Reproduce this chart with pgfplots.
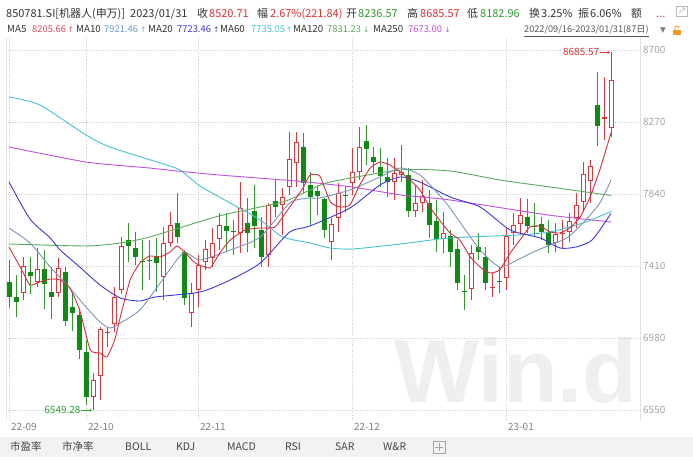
\documentclass[border=0pt]{standalone}
\usepackage{fontspec}
\setmainfont{Noto Sans CJK SC}
\newfontfamily\wmfont{Liberation Sans}
\newfontfamily\symfont{DejaVu Sans}
\usepackage{pgfplots}
\pgfplotsset{compat=1.18}
\usepackage{pgfplotstable}
\usetikzlibrary{arrows.meta}

\definecolor{txt}{HTML}{333333}
\definecolor{upred}{HTML}{E3343A}
\definecolor{dngreen}{HTML}{108A14}
\definecolor{wickgreen}{HTML}{2E9A2E}
\definecolor{hdred}{HTML}{E0312F}
\definecolor{hdgreen}{HTML}{2E9E2E}
\definecolor{cma5}{HTML}{D6303C}
\definecolor{tma5}{HTML}{E64A60}
\definecolor{cma10}{HTML}{7A96B8}
\definecolor{tma10}{HTML}{6B9BD2}
\definecolor{cma20}{HTML}{3A3AD8}
\definecolor{cma60}{HTML}{45C2D0}
\definecolor{cma120}{HTML}{5BAA5B}
\definecolor{cma250}{HTML}{C04FE0}
\definecolor{gridc}{HTML}{CFCFCF}
\definecolor{wm}{HTML}{EFEFEF}
\definecolor{tabbg}{HTML}{F2F2F2}
\definecolor{framec}{HTML}{E1E1E1}
\definecolor{xlab}{HTML}{808080}
\definecolor{ylab}{HTML}{A5A5A5}
\definecolor{datec}{HTML}{555555}
\definecolor{tabtxt}{HTML}{444444}

\pgfplotsset{candle/.style={only marks, mark=*, mark size=0pt,
  mark options={draw=none, fill=none}}}

\pgfplotstableread{
i o h l c
2 7249 7464 7207 7410
4 7314 7518 7285 7392
7 7249 7458 7225 7398
12 6628 6771 6549.28 6729
13 6753 7046 6610 7034
14 7010 7046 6926 7016
15 7064 7285 7016 7225
16 7267 7583 7243 7530
22 7344 7643 7207 7547
23 7547 7733 7524 7655
26 7129 7309 7046 7249
27 7267 7476 7165 7416
28 7434 7565 7386 7512
29 7458 7637 7404 7547
30 7571 7727 7506 7655
33 7607 7912 7488 7756
37 7476 7786 7404 7774
39 7774 7876 7595 7822
40 7882 8210 7834 8049
41 8025 8210 7882 8151
46 7553 7697 7446 7661
47 7697 7906 7613 7846
49 7906 8115 7834 7971
50 7971 8240 7924 8121
55 7912 8055 7804 7965
56 7954 8133 7912 7971
58 7739 7894 7703 7786
59 7786 7924 7733 7828
62 7571 7733 7488 7607
66 7273 7535 7207 7488
69 7279 7368 7225 7285
71 7338 7643 7267 7589
72 7607 7727 7535 7655
73 7661 7816 7595 7715
78 7547 7667 7494 7601
79 7601 7685 7518 7607
80 7613 7727 7553 7679
81 7697 7846 7637 7774
82 7792 8031 7733 7959
83 7918 8043 7786 8007
85 8289 8539 8163 8298.87
86 8236.57 8685.57 8182.96 8520.71
}\redtab

\pgfplotstableread{
i o h l c
0 7314 7446 7159 7225
1 7225 7356 7105 7195
3 7374 7464 7243 7350
5 7392 7506 7153 7303
6 7255 7404 7094 7225
8 7374 7404 7052 7082
9 7165 7249 7022 7129
10 7117 7159 6855 6908
11 6896 6968 6580 6628
17 7565 7667 7434 7530
18 7518 7613 7416 7464
19 7440 7565 7267 7434
20 7446 7565 7326 7440
21 7470 7577 7255 7428
24 7667 7846 7547 7583
25 7494 7506 7177 7219
31 7649 7727 7494 7619
32 7619 7685 7476 7613
34 7667 7816 7494 7607
35 7739 7894 7518 7649
36 7625 7703 7404 7464
38 7798 7924 7703 7762
42 8121 8204 7846 7906
43 7894 7971 7655 7822
44 7858 7894 7715 7828
45 7810 7816 7577 7625
48 7834 7882 7733 7828
51 8157 8252 8013 8109
52 8061 8121 7965 8031
53 8001 8115 7882 7948
54 7942 8055 7822 7912
57 7954 7995 7703 7739
60 7786 7864 7577 7655
61 7679 7804 7494 7571
63 7589 7625 7404 7494
64 7512 7565 7267 7309
65 7261 7356 7147 7255
67 7524 7607 7446 7494
68 7464 7524 7267 7309
70 7320 7404 7249 7314
74 7703 7810 7607 7649
75 7649 7786 7583 7643
76 7661 7703 7565 7613
77 7613 7685 7488 7535
84 8372 8569 8127 8246
}\greentab

\begin{document}
\begin{tikzpicture}[x=1bp,y=1bp]
\fill[white] (0,0) rectangle (693,461);
% watermark
\node[anchor=base west, inner sep=0pt, text=wm, font=\wmfont\bfseries\fontsize{90}{90}\selectfont] at (394,58) {Win.d};

\begin{axis}[
  at={(6bp,41bp)}, anchor=south west, scale only axis,
  width=634bp, height=382bp,
  xmin=-0.42857, xmax=90.142857,
  ymin=6490.28, ymax=8771.67,
  axis line style={draw=none},
  tick style={draw=none}, major tick length=0pt,
  xtick={0,11,27,49,71},
  xticklabels={22-09,22-10,22-11,22-12,23-01},
  ytick={6550,6980,7410,7840,8270,8700},
  yticklabels={6550,6980,7410,7840,8270,8700},
  yticklabel pos=right,
  grid=major,
  major grid style={gridc, line width=0.8bp, dash pattern=on 1bp off 1.2bp},
  xticklabel style={anchor=north west, inner sep=0pt, xshift=2bp, yshift=-3bp,
     text=xlab, font=\fontsize{10}{12}\selectfont},
  yticklabel style={anchor=west, inner sep=0pt, xshift=3bp,
     text=ylab, font=\fontsize{10}{12}\selectfont},
]
% wicks
\addplot[candle, error bars/.cd, y dir=plus, y explicit, error mark=none,
  error bar style={line width=1bp, color=upred}]
  table[x=i, y=l, y error plus expr={\thisrow{h}-\thisrow{l}}] {\redtab};
\addplot[candle, error bars/.cd, y dir=plus, y explicit, error mark=none,
  error bar style={line width=1bp, color=wickgreen}]
  table[x=i, y=l, y error plus expr={\thisrow{h}-\thisrow{l}}] {\greentab};
% green bodies
\addplot[candle, error bars/.cd, y dir=plus, y explicit, error mark=none,
  error bar style={line width=5bp, line cap=butt, color=dngreen}]
  table[x=i, y=c, y error plus expr={\thisrow{o}-\thisrow{c}}] {\greentab};
% red bodies (hollow)
\addplot[candle, error bars/.cd, y dir=plus, y explicit, error mark=none,
  error bar style={line width=5bp, line cap=butt, color=upred}]
  table[x=i, y=o, y error plus expr={\thisrow{c}-\thisrow{o}}] {\redtab};
\addplot[candle, error bars/.cd, y dir=plus, y explicit, error mark=none,
  error bar style={line width=3bp, line cap=butt, color=white}]
  table[x=i, y expr={\thisrow{o}+6}, y error plus expr={max(\thisrow{c}-\thisrow{o}-12,0)}] {\redtab};

% MA250
\addplot[cma250, line width=0.9bp, mark=none, smooth, tension=0.4] coordinates {
(0,8120.7) (11,8031.1) (20,7995.3) (24,7977.4) (30,7953.5) (41,7917.6) (49,7881.8) (56,7834) (63,7804.2) (77,7714.6) (86,7673)};
% MA120
\addplot[cma120, line width=0.9bp, mark=none, smooth, tension=0.4] coordinates {
(0,7541.4) (11,7529.5) (15.9,7547.4) (20.1,7583.2) (30,7708.6) (39.1,7792.2) (43,7863.9) (45.9,7911.7) (55.9,7983.3) (63,7977.4) (70.1,7923.6) (77.3,7881.8) (86,7831.23)};
% MA60
\addplot[cma60, line width=0.9bp, mark=none, smooth, tension=0.4] coordinates {
(0,8419.3) (4.4,8371.5) (11,8192.4) (14.4,8120.7) (21.6,8025.1) (24.4,7983.3) (27.3,7887.8) (31.6,7786.3) (35.9,7684.7) (39.1,7583.2) (43,7547.4) (45.9,7517.5) (49.1,7511.5) (55.9,7541.4) (63,7577.2) (72.6,7595.1) (77.3,7613.1) (82,7666.8) (86,7735.05)};
% MA20
\addplot[cma20, line width=0.9bp, mark=none, smooth, tension=0.4] coordinates {
(0,7911.7) (3,7690.7) (5.9,7577.2) (7.3,7505.6) (10.1,7404) (13,7296.5) (15.9,7218.9) (18.7,7201) (20.9,7224.9) (27.3,7254.7) (31.6,7326.4) (35.9,7427.9) (40.1,7613) (43,7648.9) (48.7,7756.4) (53,7893.8) (55.9,7941.5) (58.7,7911.7) (63,7822.1) (67.3,7762.4) (71.6,7625) (75.9,7577.2) (78.7,7517.5) (81,7523.5) (83.3,7565.3) (86,7723.46)};
% MA10
\addplot[cma10, line width=0.9bp, mark=none, smooth, tension=0.4] coordinates {
(0,7637) (3,7547.4) (5.9,7404) (8.7,7278.6) (11,7165.1) (13,7075.6) (14.4,7039.7) (15.9,7069.6) (18.7,7147.2) (21.6,7308.5) (24.9,7487.6) (27.3,7445.8) (31.6,7505.6) (35.9,7583.2) (40.1,7786.3) (43,7816.1) (44.4,7816.1) (48.7,7863.9) (53,7941.5) (55.9,7995.3) (58.7,7953.5) (61.6,7828.1) (63,7756.4) (64.4,7673) (67.3,7505.6) (70.1,7404) (72.6,7445.8) (74.9,7493.6) (77.3,7535.4) (79.7,7577.2) (82,7666.8) (84.4,7786.3) (86,7921.46)};
% MA5
\addplot[cma5, line width=0.9bp, mark=none, smooth, tension=0.3] coordinates {
(0,7523.5) (1.6,7404) (3,7296.5) (4.4,7314.4) (5.9,7332.4) (7.3,7326.4) (8.7,7278.6) (10.1,7147.2) (11.6,6908.3) (13,6890.4) (14,6866.5) (15.1,6968.1) (15.9,7105.4) (17.3,7326.4) (18.7,7427.9) (20.1,7469.7) (21.6,7463.8) (23,7493.6) (24,7529.5) (25.1,7493.6) (26.6,7427.9) (28.7,7398.1) (30.1,7487.6) (31.6,7565.3) (33.7,7625) (35.9,7637) (38,7642.9) (40.1,7762.4) (42,7875.8) (43,7953.5) (44.4,7947.5) (45.9,7792.2) (47.3,7762.4) (48.7,7774.3) (50.1,7893.8) (51.6,7995.3) (53,8031.1) (54.4,8013.2) (55.9,7971.4) (57.3,7923.6) (58.7,7863.9) (60.1,7762.4) (61.6,7678.8) (63,7607.1) (64.4,7565.3) (65.9,7463.8) (67.3,7404) (68.7,7368.2) (70.1,7386.1) (71.6,7487.6) (73,7565.3) (74.4,7642.9) (75.9,7648.9) (77.3,7613.1) (78.7,7607.1) (80.1,7637) (81.6,7702.6) (83,7822.1) (84.4,7983.3) (86,8205.66)};

% annotations
\draw[hdred, line width=0.6bp, -{To[length=2bp,width=3bp]}] (axis cs:84.4,8685.57) -- (axis cs:85.8,8685.57);
\node[anchor=east, inner sep=0.5bp, text=hdred, font=\fontsize{10}{12}\selectfont] at (axis cs:84.4,8685.57) {8685.57};
\draw[hdgreen, line width=0.6bp, -{To[length=2bp,width=3bp]}] (axis cs:10.3,6549.28) -- (axis cs:11.8,6549.28);
\node[anchor=east, inner sep=0.5bp, text=hdgreen, font=\fontsize{10}{12}\selectfont] at (axis cs:10.3,6549.28) {6549.28};
\end{axis}

% plot frame lines
\draw[framec, line width=0.8bp] (6,41) -- (6,423);
\draw[framec, line width=0.8bp] (640,41) -- (640,423);

% header row 1
\begin{scope}[every node/.style={anchor=base west, inner sep=0pt, font=\fontsize{11}{13}\selectfont, text=txt}]
\node at (6,443) {850781.SI[机器人(申万)]};
\node at (130,443) {2023/01/31};
\node at (197,443) {收};
\node[text=hdred] at (209,443) {8520.71};
\node at (257,443) {幅};
\node[text=hdred] at (270,443) {2.67\%(221.84)};
\node at (346,443) {开};
\node[text=hdgreen] at (358,443) {8236.57};
\node at (407,443) {高};
\node[text=hdred] at (420,443) {8685.57};
\node at (467,443) {低};
\node[text=hdgreen] at (480,443) {8182.96};
\node at (529,443) {换};
\node at (541,443) {3.25\%};
\node at (578,443) {振};
\node at (590,443) {6.06\%};
\node at (631,443) {额};
\node[text=hdred] at (656,443) {...};
\end{scope}
\draw[gray!55, line width=0.7bp] (676,445) rectangle (687,455);
\draw[gray!55, line width=0.7bp, -{To[length=2bp]}] (679,448) -- (685,453);

% header row 2
\begin{scope}[every node/.style={anchor=base west, inner sep=0pt, font=\fontsize{9.8}{12}\selectfont, text=txt},
  arr/.style={font=\symfont\fontsize{7.5}{10}\selectfont}]
\node at (7,428) {MA5};
\node[text=tma5, font=\fontsize{9.4}{12}\selectfont] at (32,428) {8205.66};
\node[text=tma5, arr] at (67.5,428) {↑};
\node at (76,428) {MA10};
\node[text=tma10, font=\fontsize{9.4}{12}\selectfont] at (104,428) {7921.46};
\node[text=tma10, arr] at (140,428) {↑};
\node at (148,428) {MA20};
\node[text=cma20, font=\fontsize{9.4}{12}\selectfont] at (177,428) {7723.46};
\node[text=cma20, arr] at (213,428) {↑};
\node at (220,428) {MA60};
\node[text=cma60, font=\fontsize{9.4}{12}\selectfont] at (251,428) {7735.05};
\node[text=cma60, arr] at (286,428) {↑};
\node at (293,428) {MA120};
\node[text=cma120, font=\fontsize{9.4}{12}\selectfont] at (327,428) {7831.23};
\node[text=cma120, arr] at (363,428) {↓};
\node at (373,428) {MA250};
\node[text=cma250, font=\fontsize{9.4}{12}\selectfont] at (408,428) {7673.00};
\node[text=cma250, arr] at (444.5,428) {↓};
\node[text=datec, font=\fontsize{9.2}{11}\selectfont] at (524,428) {\underline{2022/09/16-2023/01/31(87日)}};
\node[text=gray, font=\symfont\fontsize{7.5}{10}\selectfont] at (660,428) {▼};
\end{scope}
\fill[orange!85] (673,426) rectangle (681,431);
\draw[orange!85, line width=0.8bp] (675,431) -- (675,433) arc (180:0:2) ;

% bottom tab bar
\fill[tabbg] (0,4) rectangle (693,24);
\begin{scope}[every node/.style={anchor=base west, inner sep=0pt, font=\fontsize{10.5}{12}\selectfont, text=tabtxt}]
\node at (10,10) {市盈率};
\node at (62,10) {市净率};
\node at (125,10) {BOLL};
\node at (176,10) {KDJ};
\node at (227,10) {MACD};
\node at (285,10) {RSI};
\node at (335,10) {SAR};
\node at (383,10) {W\&R};
\end{scope}
\draw[gray!70, line width=0.6bp] (433,8) rectangle (445,20);
\draw[gray!70, line width=0.6bp] (439,10) -- (439,18) (435,14) -- (443,14);
\end{tikzpicture}
\end{document}
